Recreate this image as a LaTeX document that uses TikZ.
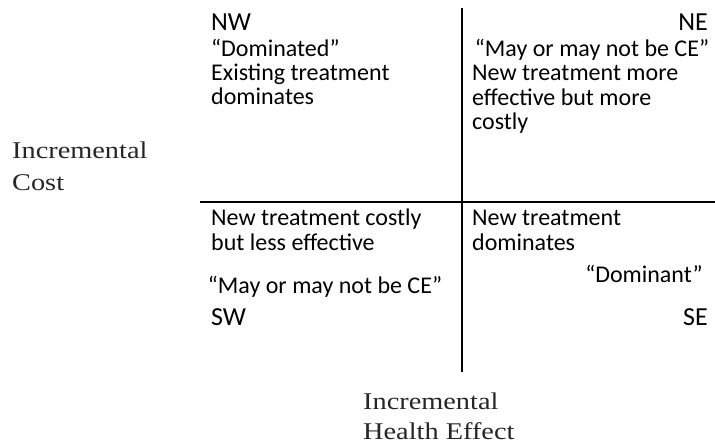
\documentclass[tikz,border=0pt]{standalone}
\usepackage{fontspec}
\setmainfont{Carlito}
\newfontfamily\axisfont[FakeStretch=1.18]{Liberation Serif}
\begin{document}
\begin{tikzpicture}[x=1pt,y=-1pt,
  body/.style={inner sep=0pt, font=\fontsize{24}{28}\selectfont},
  corner/.style={inner sep=0pt, font=\fontsize{26}{30}\selectfont},
  axislabel/.style={inner sep=0pt, text=black!85, font=\axisfont\fontsize{24}{30}\selectfont},
  axisline/.style={line width=2pt}]
\useasboundingbox (0,0) rectangle (715,445);
\fill[white] (0,0) rectangle (715,445);
% the two axes of the cost-effectiveness plane
\coordinate (hL) at (200,202);
\coordinate (hR) at (715,202);
\coordinate (vT) at (462,8);
\coordinate (vB) at (462,372);
\draw[axisline] (hL) -- (hR);
\draw[axisline] (vT) -- (vB);
% north-west quadrant
\node[corner, anchor=base west] (nw) at (211,30) {NW};
\node[body, anchor=base west] (nw1) at (211,56) {“Dominated”};
\node[body, anchor=base west] (nw2) at (211,80) {Existing treatment};
\node[body, anchor=base west] (nw3) at (211,104) {dominates};
% north-east quadrant
\node[corner, anchor=base east] (ne) at (708,30) {NE};
\node[body, anchor=base] (ne1) at (592,56) {“May or may not be CE”};
\node[body, anchor=base west] (ne2) at (472,80) {New treatment more};
\node[body, anchor=base west] (ne3) at (472,105) {effective but more};
\node[body, anchor=base west] (ne4) at (472,129) {costly};
% south-west quadrant
\node[body, anchor=base west] (sw1) at (211,225) {New treatment costly};
\node[body, anchor=base west] (sw2) at (211,250) {but less effective};
\node[body, anchor=base] (sw3) at (325,293) {“May or may not be CE”};
\node[corner, anchor=base west] (sw) at (211,325) {SW};
% south-east quadrant
\node[body, anchor=base west] (se1) at (472,225) {New treatment};
\node[body, anchor=base west] (se2) at (472,250) {dominates};
\node[body, anchor=base east] (se3) at (703,282) {“Dominant”};
\node[corner, anchor=base east] (se) at (708,325) {SE};
% axis titles
\node[axislabel, anchor=base west] (yl1) at (12,158) {Incremental};
\node[axislabel, anchor=base west] (yl2) at (12,190) {Cost};
\node[axislabel, anchor=base west] (xl1) at (363,409) {Incremental};
\node[axislabel, anchor=base west] (xl2) at (363,439) {Health Effect};
\end{tikzpicture}
\end{document}
